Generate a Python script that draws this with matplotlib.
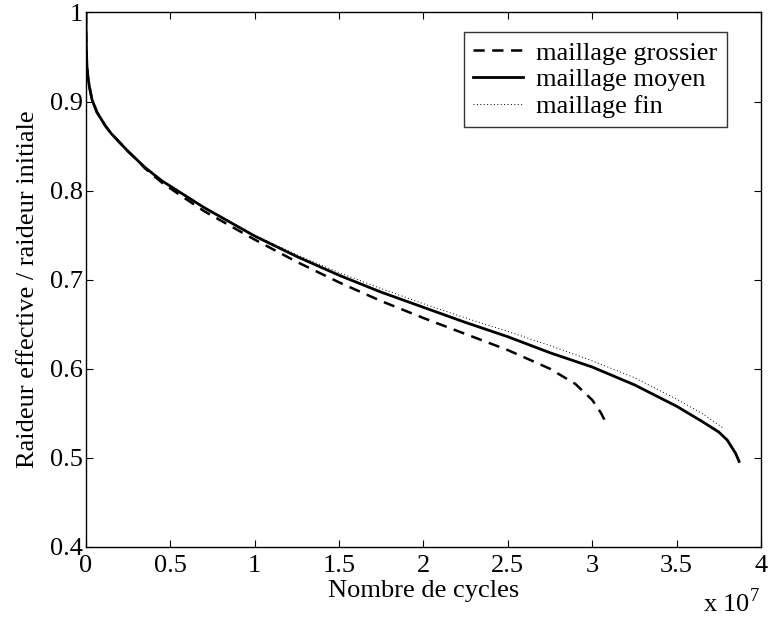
import matplotlib
matplotlib.use("Agg")
import matplotlib.pyplot as plt
from matplotlib.ticker import FuncFormatter, MultipleLocator

plt.rcParams['font.family'] = ['Liberation Serif', 'DejaVu Serif']
plt.rcParams['mathtext.fontset'] = 'custom'
plt.rcParams['mathtext.rm'] = 'Liberation Serif'

# Data (x in units of 1e7 cycles)
x_grossier = [0, 0.001, 0.003, 0.006, 0.012, 0.02, 0.036, 0.065, 0.114, 0.15, 0.2, 0.25, 0.3, 0.35,
              0.45, 0.55, 0.7, 0.85, 1.0, 1.25, 1.5, 1.75, 2.0, 2.25, 2.5, 2.75, 2.9, 3.0, 3.05, 3.08]
y_grossier = [1.0, 0.975, 0.955, 0.939, 0.927, 0.917, 0.902, 0.888, 0.873, 0.864, 0.854, 0.844, 0.835, 0.825,
              0.809, 0.796, 0.777, 0.761, 0.745, 0.720, 0.697, 0.676, 0.657, 0.639, 0.621, 0.600, 0.583,
              0.565, 0.551, 0.540]

x_moyen = [0, 0.001, 0.003, 0.006, 0.012, 0.02, 0.036, 0.065, 0.114, 0.15, 0.2, 0.25, 0.3, 0.35,
           0.45, 0.55, 0.7, 0.85, 1.0, 1.25, 1.5, 1.75, 2.0, 2.25, 2.5, 2.75, 3.0, 3.25, 3.5, 3.65,
           3.75, 3.8, 3.85, 3.87]
y_moyen = [1.0, 0.975, 0.955, 0.939, 0.927, 0.917, 0.902, 0.888, 0.873, 0.864, 0.854, 0.844, 0.835, 0.826,
           0.811, 0.799, 0.781, 0.765, 0.749, 0.726, 0.705, 0.686, 0.669, 0.652, 0.636, 0.618, 0.602,
           0.582, 0.558, 0.541, 0.529, 0.520, 0.505, 0.496]

x_fin = [0, 0.001, 0.003, 0.006, 0.012, 0.02, 0.036, 0.065, 0.114, 0.15, 0.2, 0.25, 0.3, 0.35,
         0.45, 0.55, 0.7, 0.85, 1.0, 1.25, 1.5, 1.75, 2.0, 2.25, 2.5, 2.75, 3.0, 3.25, 3.5, 3.65, 3.78]
y_fin = [1.0, 0.975, 0.955, 0.939, 0.927, 0.917, 0.902, 0.888, 0.873, 0.864, 0.854, 0.844, 0.835, 0.826,
         0.811, 0.799, 0.781, 0.765, 0.750, 0.728, 0.708, 0.690, 0.673, 0.657, 0.642, 0.626, 0.609,
         0.590, 0.566, 0.550, 0.533]

labels = ['maillage grossier', 'maillage moyen', 'maillage fin']

fig = plt.figure(figsize=(7.69, 6.21), dpi=100)
ax = fig.add_axes([0.1118, 0.1192, 0.8778, 0.8607])

ax.plot(x_grossier, y_grossier, color='black', lw=1.8, linestyle=(0, (4.5, 3)), label=labels[0])
ax.plot(x_moyen, y_moyen, color='black', lw=2.0, linestyle='-', label=labels[1])
ax.plot(x_fin, y_fin, color='black', lw=0.7, linestyle=(0, (1, 2.5)), label=labels[2])

ax.set_xlim(0, 4)
ax.set_ylim(0.4, 1.0)
ax.xaxis.set_major_locator(MultipleLocator(0.5))
ax.yaxis.set_major_locator(MultipleLocator(0.1))
fmt = FuncFormatter(lambda v, p: ('%.1f' % v).rstrip('0').rstrip('.'))
ax.xaxis.set_major_formatter(fmt)
ax.yaxis.set_major_formatter(fmt)
ax.tick_params(direction='in', top=True, right=True, length=5, width=0.8,
               labelsize=19, pad=2, colors='black')
ax.tick_params(axis='x', pad=6)
for s in ax.spines.values():
    s.set_linewidth(1.0)

ax.set_xlabel('Nombre de cycles', fontsize=19, labelpad=2)
ax.set_ylabel('Raideur effective / raideur initiale', fontsize=19, labelpad=0)
ax.yaxis.set_label_coords(-0.070, 0.483)

fig.text(0.988, 0.006, r'x 10$^{7}$', fontsize=19, ha='right', va='bottom')

leg = ax.legend(loc='upper right', bbox_to_anchor=(0.9496, 0.9635), borderaxespad=0,
                fontsize=19, frameon=True, fancybox=False, edgecolor='black',
                handlelength=1.9, handletextpad=0.5, labelspacing=0.12,
                borderpad=0.35)
leg.get_frame().set_linewidth(1.0)

fig.savefig('out.png', dpi=100)
